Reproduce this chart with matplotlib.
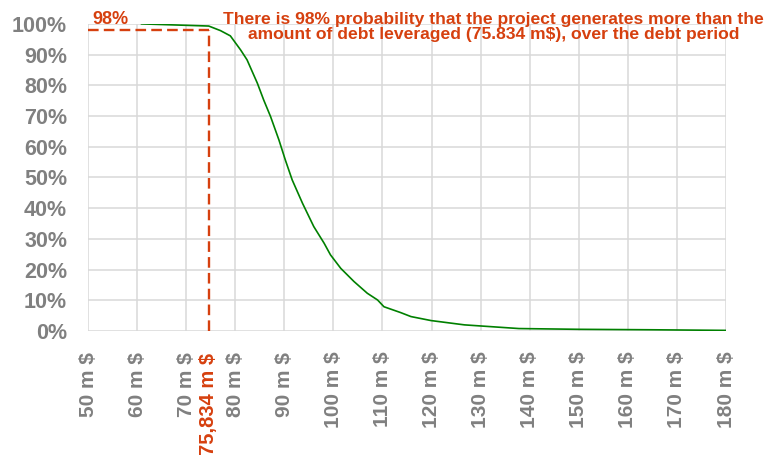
import matplotlib.pyplot as plt
import numpy as np

# cumulative probability curve
cash_m = [60.9, 74.6, 77.0, 79.0, 81.1, 82.4, 84.5, 85.8, 87.2, 88.9, 90.2, 91.6,
          93.7, 96.0, 98.1, 99.4, 101.5, 104.2, 106.9, 109.0, 110.3, 113.7,
          115.8, 119.9, 126.7, 137.8, 150.1, 165.0, 180.4]
prob = [100.0, 99.3, 97.8, 96.1, 91.5, 88.3, 80.7, 75.2, 69.8, 62.2, 55.7, 49.2,
        41.6, 34.0, 28.6, 24.8, 20.4, 16.1, 12.3, 10.1, 7.9, 6.0,
        4.7, 3.4, 2.0, 0.8, 0.55, 0.4, 0.2]

debt_label = "75,834 m $"
debt_x = 74.6       # where the marker sits on the chart
debt_prob = 98

x_ticks = list(range(50, 190, 10))
y_ticks = list(range(0, 110, 10))

red = '#D6400F'
gray = '#808080'

plt.rcParams['font.family'] = ['Liberation Sans', 'DejaVu Sans']

fig = plt.figure(figsize=(7.79, 4.55), dpi=100)
ax = fig.add_axes([0.113, 0.2725, 0.819, 0.675])

ax.plot(cash_m, prob, color='#008000', lw=1.2, zorder=3)

# debt marker
ax.plot([debt_x, debt_x], [0, debt_prob], color=red, lw=1.7, ls=(0, (4.5, 2.2)), zorder=4)
ax.plot([50, debt_x], [debt_prob, debt_prob], color=red, lw=1.7, ls=(0, (4.5, 2.2)), zorder=4)

ax.set_xlim(50, 180)
ax.set_ylim(0, 100)
ax.set_xticks(x_ticks)
ax.set_xticklabels([f"{v} m $" for v in x_ticks], rotation=90, color=gray,
                   fontsize=15, fontweight='bold', va='top')
ax.set_yticks(y_ticks)
ax.set_yticklabels([f"{v}%" for v in y_ticks], color=gray, fontsize=15.5, fontweight='bold')
ax.tick_params(length=0)
ax.tick_params(axis='x', pad=15)
ax.tick_params(axis='y', pad=15)
ax.grid(True, color='#D9D9D9', lw=1.1)
ax.set_axisbelow(True)
for s in ax.spines.values():
    s.set_visible(False)

ax.text(debt_x, -7.0, debt_label, rotation=90, color=red, fontsize=14.5,
        fontweight='bold', ha='center', va='top', clip_on=False)
ax.text(50.8, 98.5, f"{debt_prob}%", color=red, fontsize=13, fontweight='bold',
        ha='left', va='bottom')
ax.text(132.6, 94.0,
        "There is 98% probability that the project generates more than the\n"
        "amount of debt leveraged (75.834 m$), over the debt period",
        color=red, fontsize=12.6, fontweight='bold', ha='center', va='bottom',
        linespacing=1.0)

fig.savefig("out.png", dpi=100)
